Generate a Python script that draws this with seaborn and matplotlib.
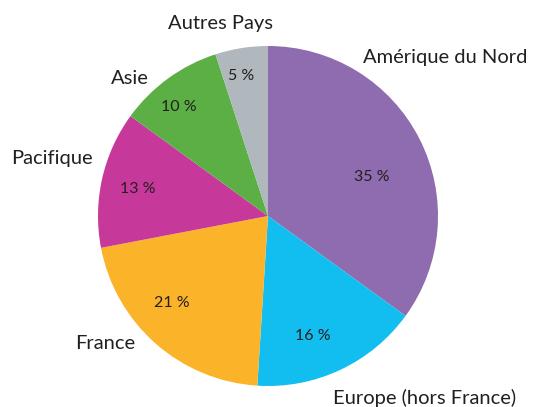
import matplotlib
matplotlib.use("Agg")
import matplotlib.pyplot as plt
import seaborn as sns

regions = ["Amérique du Nord", "Europe (hors France)", "France", "Pacifique", "Asie", "Autres Pays"]
shares = [35, 16, 21, 13, 10, 5]
colors = ["#8F6BAF", "#12BEF0", "#FBB32A", "#C6399A", "#5BAF45", "#B0B7BD"]

# label / percent positions (data units, pie radius = 1)
label_pos = [(1.04, 0.93), (0.92, -1.07), (-0.96, -0.75), (-1.27, 0.34), (-0.81, 0.81), (-0.28, 1.135)]
pct_pos = [(0.61, 0.23), (0.265, -0.705), (-0.565, -0.51), (-0.765, 0.16), (-0.525, 0.64), (-0.16, 0.825)]

sns.set_style("white")
plt.rcParams["font.family"] = ["Lato", "DejaVu Sans"]
text_color = "#231F20"

fig = plt.figure(figsize=(5.38, 4.07), dpi=100)
ax = fig.add_axes([98 / 538, 21 / 407, 340 / 538, 340 / 407])

wedges, texts, autotexts = ax.pie(
    shares, labels=regions, colors=colors, startangle=90, counterclock=False,
    autopct=lambda p: f"{p:.0f} %", wedgeprops={"linewidth": 0},
    textprops={"color": text_color},
)
for t, (x, y) in zip(texts, label_pos):
    t.set_position((x, y))
    t.set_ha("center")
    t.set_va("center")
    t.set_fontsize(14.5)
for t, (x, y) in zip(autotexts, pct_pos):
    t.set_position((x, y))
    t.set_ha("center")
    t.set_va("center")
    t.set_fontsize(11.5)

ax.set_xlim(-1, 1)
ax.set_ylim(-1, 1)
ax.set_aspect("equal")
for t in texts + autotexts:
    t.set_clip_on(False)

fig.savefig("out.png", dpi=100)
